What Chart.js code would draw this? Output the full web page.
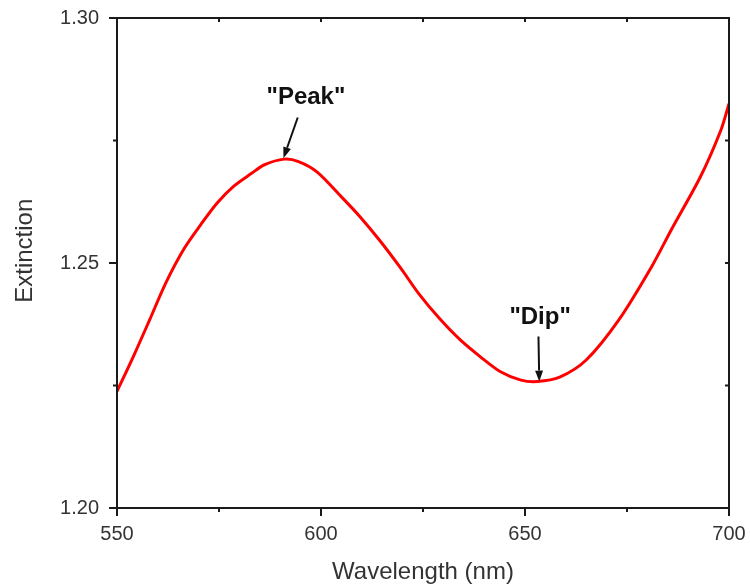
<!DOCTYPE html>
<html>
<head>
<meta charset="utf-8">
<script src="https://cdn.jsdelivr.net/npm/chart.js@4"></script>
<style>
  body { margin: 0; background: #fff; }
  #wrap { width: 750px; height: 587px; }
</style>
</head>
<body>
<div id="wrap"><canvas id="extChart" width="750" height="587"></canvas></div>
<script>
// Data
const wavelengths = [550, 554, 558, 562, 566.5, 570.5, 574.5, 578.5, 583, 586, 591, 594.5, 599, 605, 609.5, 614.5, 619.5, 624, 629, 634, 639, 644, 649, 653, 658.5, 665, 673, 681, 686, 693, 698, 700];
const extinction = [1.2238, 1.2309, 1.2384, 1.2460, 1.2530, 1.2578, 1.2622, 1.2656, 1.2683, 1.2700, 1.2712, 1.2707, 1.2686, 1.2635, 1.2595, 1.2545, 1.2490, 1.2437, 1.2387, 1.2344, 1.2309, 1.2278, 1.2261, 1.2258, 1.2267, 1.2302, 1.2384, 1.2492, 1.2570, 1.2676, 1.2771, 1.2825];

const xMajor = [550, 600, 650, 700];
const xMinor = [575, 625, 675];
const yMajor = [1.20, 1.25, 1.30];
const yMinor = [1.225, 1.275];

// Annotations: label, text position, arrow tail, arrow tip (data units)
const notes = [
    { text: '"Peak"', at: [596.3, 1.2837], from: [594.3, 1.2797], to: [590.8, 1.2714] },
    { text: '"Dip"', at: [653.7, 1.2390], from: [653.3, 1.2350], to: [653.5, 1.2258] }
];

const FONT = "'Liberation Sans', Arial, sans-serif";
Chart.defaults.font.family = FONT;

const framePlugin = {
    id: 'frame',
    afterDraw(chart) {
        const ctx = chart.ctx;
        const a = chart.chartArea;
        const xs = chart.scales.x;
        const ys = chart.scales.y;
        ctx.save();
        ctx.strokeStyle = '#1a1a1a';
        ctx.lineWidth = 2;
        ctx.strokeRect(a.left, a.top, a.right - a.left, a.bottom - a.top);

        function tick(x1, y1, x2, y2) {
            ctx.beginPath();
            ctx.moveTo(x1, y1);
            ctx.lineTo(x2, y2);
            ctx.stroke();
        }
        // bottom and top
        xMajor.forEach(v => {
            const px = xs.getPixelForValue(v);
            tick(px, a.bottom, px, a.bottom + 8);
            tick(px, a.top, px, a.top + 4);
        });
        xMinor.forEach(v => {
            const px = xs.getPixelForValue(v);
            tick(px, a.bottom, px, a.bottom + 4);
            tick(px, a.top, px, a.top + 4);
        });
        // left and right
        yMajor.forEach(v => {
            const py = ys.getPixelForValue(v);
            tick(a.left - 8, py, a.left, py);
            tick(a.right - 4, py, a.right, py);
        });
        yMinor.forEach(v => {
            const py = ys.getPixelForValue(v);
            tick(a.left - 4, py, a.left, py);
            tick(a.right - 4, py, a.right, py);
        });

        // axis titles
        ctx.fillStyle = '#333';
        ctx.font = '24px ' + FONT;
        ctx.textAlign = 'center';
        ctx.textBaseline = 'middle';
        ctx.fillText('Wavelength (nm)', (a.left + a.right) / 2, 572);
        ctx.save();
        ctx.translate(25, ys.getPixelForValue(1.2525));
        ctx.rotate(-Math.PI / 2);
        ctx.fillText('Extinction', 0, 0);
        ctx.restore();

        // annotations
        ctx.fillStyle = '#111';
        ctx.strokeStyle = '#111';
        ctx.lineWidth = 2;
        ctx.font = 'bold 24px ' + FONT;
        notes.forEach(n => {
            ctx.fillText(n.text, xs.getPixelForValue(n.at[0]), ys.getPixelForValue(n.at[1]));
            const x1 = xs.getPixelForValue(n.from[0]), y1 = ys.getPixelForValue(n.from[1]);
            const x2 = xs.getPixelForValue(n.to[0]), y2 = ys.getPixelForValue(n.to[1]);
            const ang = Math.atan2(y2 - y1, x2 - x1);
            const hl = 11, hw = 4;
            const bx = x2 - hl * Math.cos(ang), by = y2 - hl * Math.sin(ang);
            tick(x1, y1, bx, by);
            ctx.beginPath();
            ctx.moveTo(x2, y2);
            ctx.lineTo(bx - hw * Math.sin(ang), by + hw * Math.cos(ang));
            ctx.lineTo(bx + hw * Math.sin(ang), by - hw * Math.cos(ang));
            ctx.closePath();
            ctx.fill();
        });
        ctx.restore();
    }
};

new Chart(document.getElementById('extChart'), {
    type: 'line',
    data: {
        datasets: [{
            data: wavelengths.map((w, i) => ({ x: w, y: extinction[i] })),
            borderColor: '#ff0000',
            borderWidth: 3,
            pointRadius: 0,
            tension: 0.3,
            fill: false
        }]
    },
    options: {
        responsive: false,
        animation: false,
        layout: { padding: { top: 18, right: 21, left: 0, bottom: 0 } },
        plugins: {
            legend: { display: false },
            tooltip: { enabled: false }
        },
        scales: {
            x: {
                type: 'linear',
                min: 550,
                max: 700,
                grid: { display: false, drawTicks: false },
                border: { display: false },
                ticks: {
                    stepSize: 50,
                    padding: 14,
                    color: '#333',
                    font: { size: 20 }
                },
                afterFit(s) {
                    s.height = 79;
                    s.paddingLeft = 0;
                    s.paddingRight = 0;
                }
            },
            y: {
                min: 1.2,
                max: 1.3,
                grid: { display: false, drawTicks: false },
                border: { display: false },
                ticks: {
                    stepSize: 0.05,
                    padding: 18,
                    color: '#333',
                    font: { size: 20 },
                    callback: v => v.toFixed(2)
                },
                afterFit(s) {
                    s.width = 117;
                    s.paddingTop = 0;
                    s.paddingBottom = 0;
                }
            }
        }
    },
    plugins: [framePlugin]
});
</script>
</body>
</html>
